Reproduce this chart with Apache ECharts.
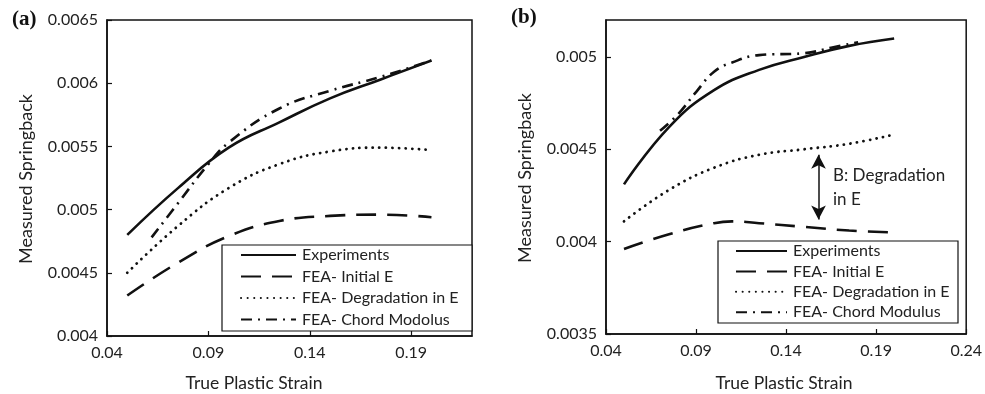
<!DOCTYPE html>
<html>
<head>
<meta charset="utf-8">
<title>Measured Springback vs True Plastic Strain</title>
<script src="https://cdn.jsdelivr.net/npm/echarts@6/dist/echarts.min.js"></script>
<style>
  html, body { margin: 0; padding: 0; background: #fff; }
  #chart { width: 985px; height: 394px; }
</style>
</head>
<body>
<div id="chart"></div>
<script>
// Series names (shared by both panels)
const seriesNames = ['Experiments', 'FEA- Initial E', 'FEA- Degradation in E', 'FEA- Chord Modolus'];
const seriesNamesB = ['Experiments', 'FEA- Initial E', 'FEA- Degradation in E', 'FEA- Chord Modulus'];

// Panel (a): [true plastic strain, measured springback]
const aExperiments = [[0.05, 0.0048], [0.075, 0.00517], [0.1, 0.00549], [0.125, 0.00569], [0.15, 0.00588], [0.175, 0.00603], [0.2, 0.00618]];
const aInitialE = [[0.05, 0.00432], [0.075, 0.00458], [0.1, 0.00479], [0.125, 0.00491], [0.15, 0.00495], [0.175, 0.00496], [0.2, 0.00494]];
const aDegradation = [[0.05, 0.0045], [0.075, 0.00487], [0.1, 0.00517], [0.125, 0.00536], [0.15, 0.00546], [0.175, 0.00549], [0.2, 0.00547]];
const aChord = [[0.062, 0.00478], [0.075, 0.00505], [0.09, 0.00536], [0.1, 0.00553], [0.125, 0.0058], [0.15, 0.00594], [0.175, 0.00605], [0.2, 0.00618]];

// Panel (b)
const bExperiments = [[0.05, 0.00431], [0.075, 0.00462], [0.1, 0.00482], [0.125, 0.00493], [0.15, 0.005], [0.175, 0.00506], [0.2, 0.0051]];
const bInitialE = [[0.05, 0.00396], [0.075, 0.00404], [0.1, 0.0041], [0.11, 0.00411], [0.125, 0.0041], [0.15, 0.00408], [0.175, 0.00406], [0.2, 0.00405]];
const bDegradation = [[0.05, 0.00411], [0.075, 0.00428], [0.1, 0.0044], [0.125, 0.00447], [0.15, 0.0045], [0.175, 0.00453], [0.2, 0.00458]];
const bChord = [[0.07, 0.0046], [0.08, 0.00469], [0.09, 0.00481], [0.1, 0.00492], [0.11, 0.00497], [0.125, 0.00501], [0.15, 0.00502], [0.165, 0.00505], [0.18, 0.00508]];

// Arrow marking the degradation gap in panel (b)
const gapArrow = [[0.158, 0.00447], [0.158, 0.00412]];

const textFont = 'Lato';
const ink = '#111';

const styles = [
  { type: 'solid', cap: 'butt' },
  { type: [20, 11], cap: 'butt' },
  { type: [0.1, 6.5], cap: 'round' },
  { type: [11, 6, 2, 6], cap: 'butt' }
];

function fmt(v) { return String(+v.toFixed(5)); }

function makeSeries(name, data, idx, gridIdx, extra) {
  return Object.assign({
    name: name,
    type: 'line',
    xAxisIndex: gridIdx,
    yAxisIndex: gridIdx,
    data: data,
    smooth: 0.45,
    symbol: 'none',
    silent: true,
    animation: false,
    itemStyle: { color: ink },
    lineStyle: {
      color: ink,
      width: idx === 2 ? 2.8 : 2.6,
      type: styles[idx].type,
      cap: styles[idx].cap
    }
  }, extra || {});
}

function xAxisDef(gridIdx, max) {
  return {
    type: 'value', gridIndex: gridIdx, min: 0.04, max: max, interval: 0.05,
    axisLine: { show: true, onZero: false, lineStyle: { color: ink, width: 1.5 } },
    axisTick: { show: true, inside: true, length: 5, lineStyle: { color: ink, width: 1.2 } },
    axisLabel: { color: '#222', fontFamily: textFont, fontSize: 16, margin: 9, formatter: fmt, showMaxLabel: max === 0.24 },
    splitLine: { show: false }
  };
}

function yAxisDef(gridIdx, min, max, showMax) {
  return {
    type: 'value', gridIndex: gridIdx, min: min, max: max, interval: 0.0005,
    axisLine: { show: true, onZero: false, lineStyle: { color: ink, width: 1.5 } },
    axisTick: { show: true, inside: true, length: 5, lineStyle: { color: ink, width: 1.2 } },
    axisLabel: { color: '#222', fontFamily: textFont, fontSize: 16, margin: 9, formatter: fmt, showMaxLabel: showMax },
    splitLine: { show: false }
  };
}

function legendDef(names, left, top, width, gap) {
  return {
    data: names, orient: 'vertical', left: left, top: top,
    itemWidth: width, itemHeight: 14, itemGap: gap, padding: 0,
    selectedMode: false,
    itemStyle: { opacity: 0 },
    textStyle: { color: '#222', fontFamily: textFont, fontSize: 16, padding: [0, 0, 0, 1] }
  };
}

const option = {
  backgroundColor: '#fff',
  animation: false,
  grid: [
    { left: 107, top: 20, right: 513, bottom: 58, show: true, borderColor: ink, borderWidth: 1.5, backgroundColor: 'transparent' },
    { left: 606, top: 20, right: 17, bottom: 60, show: true, borderColor: ink, borderWidth: 1.5, backgroundColor: 'transparent' }
  ],
  xAxis: [xAxisDef(0, 0.22), xAxisDef(1, 0.24)],
  yAxis: [yAxisDef(0, 0.004, 0.0065, true), yAxisDef(1, 0.0035, 0.0052, false)],
  legend: [
    legendDef(seriesNames, 240, 247, 55, 5.5),
    legendDef(seriesNamesB, 735, 243, 51, 4.4)
  ],
  graphic: [
    { type: 'rect', shape: { x: 222, y: 245, width: 250, height: 86 }, style: { fill: '#fff', stroke: ink, lineWidth: 1.2 }, z: 0 },
    { type: 'rect', shape: { x: 718, y: 241, width: 240, height: 82 }, style: { fill: '#fff', stroke: ink, lineWidth: 1.2 }, z: 0 },
    { type: 'text', x: 12, y: 20, style: { text: '(a)', font: 'bold 21px "Liberation Serif"', fill: '#111', verticalAlign: 'middle' } },
    { type: 'text', x: 511, y: 18, style: { text: '(b)', font: 'bold 21px "Liberation Serif"', fill: '#111', verticalAlign: 'middle' } },
    { type: 'text', x: 254, y: 383, style: { text: 'True Plastic Strain', font: '17.5px Lato', fill: '#222', align: 'center', verticalAlign: 'middle' } },
    { type: 'text', x: 784, y: 383, style: { text: 'True Plastic Strain', font: '17.5px Lato', fill: '#222', align: 'center', verticalAlign: 'middle' } },
    { type: 'text', x: 26, y: 179, rotation: Math.PI / 2, style: { text: 'Measured Springback', font: '18px Lato', fill: '#222', align: 'center', verticalAlign: 'middle' } },
    { type: 'text', x: 525, y: 178, rotation: Math.PI / 2, style: { text: 'Measured Springback', font: '18px Lato', fill: '#222', align: 'center', verticalAlign: 'middle' } },
    { type: 'text', x: 833, y: 176, style: { text: 'B: Degradation', font: '17px Lato', fill: '#222', verticalAlign: 'middle' } },
    { type: 'text', x: 833, y: 200, style: { text: 'in E', font: '17px Lato', fill: '#222', verticalAlign: 'middle' } }
  ],
  series: [
    makeSeries(seriesNames[0], aExperiments, 0, 0),
    makeSeries(seriesNames[1], aInitialE, 1, 0),
    makeSeries(seriesNames[2], aDegradation, 2, 0),
    makeSeries(seriesNames[3], aChord, 3, 0),
    makeSeries(seriesNamesB[0], bExperiments, 0, 1),
    makeSeries(seriesNamesB[1], bInitialE, 1, 1, {
      markLine: {
        silent: true,
        symbol: ['arrow', 'arrow'],
        symbolSize: [11, 14],
        label: { show: false },
        lineStyle: { color: ink, width: 1.5, type: 'solid' },
        data: [[{ coord: gapArrow[0] }, { coord: gapArrow[1] }]]
      }
    }),
    makeSeries(seriesNamesB[2], bDegradation, 2, 1),
    makeSeries(seriesNamesB[3], bChord, 3, 1)
  ]
};

const chart = echarts.init(document.getElementById('chart'), null, { renderer: 'canvas' });
chart.setOption(option);
</script>
</body>
</html>
